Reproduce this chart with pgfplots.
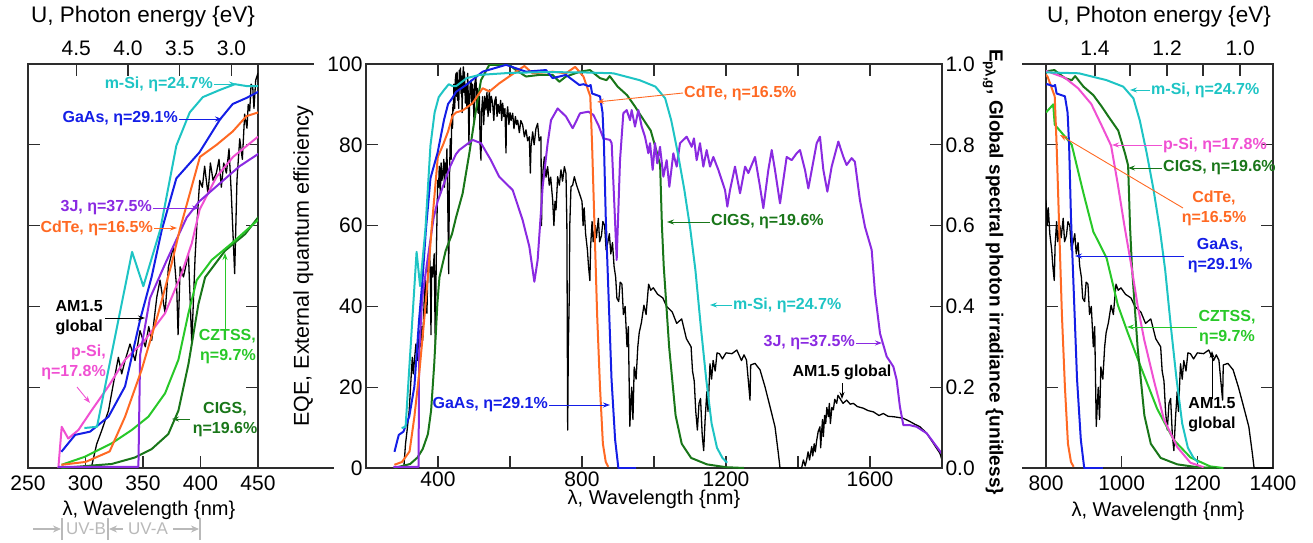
\documentclass[border=0pt]{standalone}
\usepackage{fontspec}
\setmainfont{Liberation Sans}
\usepackage{pgfplots}
\usepackage{pgfplotstable}
\pgfplotsset{compat=1.18}
\usetikzlibrary{arrows.meta}

\definecolor{msi}{RGB}{30,196,196}
\definecolor{gaas}{RGB}{20,30,230}
\definecolor{cdte}{RGB}{255,105,35}
\definecolor{cigs}{RGB}{25,118,25}
\definecolor{tj}{RGB}{138,42,225}
\definecolor{psi}{RGB}{240,80,210}
\definecolor{czt}{RGB}{40,200,40}
\definecolor{axc}{RGB}{45,45,45}

\pgfplotstableread{
x y
299 9.9
310 10.2
340.5 53.5
350.3 45
365 59
379 79.8
390.6 88
402 91.8
417 93.6
430 95
441 94.5
450 94.5
480 96.5
515 97.3
600 97.8
700 98
811 97.9
887 97.7
960 96
1004 94.4
1031 91.5
1048 86
1066 78
1084 69
1101 59
1115 49
1130 35
1145 22
1160 11
1175 5
1190 2.5
1203 1.3
}\tabmsi

\pgfplotstableread{
x y
279 4
291 8.2
304 9
320 12.7
334.4 20.2
347.4 36.6
357.5 47.3
366.3 58.9
379 71.7
399 78.1
417 86.3
428 90.1
440 91.6
450 93.1
478 94.8
524 98.1
589 99.8
644 98.1
700 98.5
718.5 96.5
755.5 97.3
792.6 94.8
804 95
819 94.5
824 94.8
828 92.7
850 92
857 88
861 80
866 62
874 42
882 22
892 7
901 0
950 0
}\tabgaas

\pgfplotstableread{
x y
279 0.8
300 1.5
321 4.1
334.4 12.7
348.8 24.3
363.3 38.3
375 50.7
382 59
399.5 77
414 80
428 83.3
440 87.1
450 88
468.5 88.5
496 90.3
524 94
543 93.2
570 95.2
617 98.1
640 99.5
663 97.7
718.5 98.1
755.5 97.7
781 99.3
804 96.9
823 92
828 80
833 65
842 38
850 20
858 6
866 1.5
873 0.3
}\tabcdte

\pgfplotstableread{
x y
279 0
322.8 1
343 2.6
357.6 4.7
372 8.4
380.8 14.2
389.5 25.7
398.2 40.6
404 47.2
421.4 53.8
438.8 57.9
450 62
468.5 68
487 77.9
505.5 88.6
519.4 96
542.6 99.8
598 99.8
616.7 98.5
644.4 96.9
681.5 97.3
718.5 97.3
737 95.6
755.5 96.9
794.5 98.1
822 98.5
850 96.5
868 96
877 97
899 94.4
925 92.3
947 89.5
965 87
991 83.5
1009 77.8
1017 74.9
1022 60
1027 50
1042 30
1060 13
1077 6
1103 2.5
1147 0.9
1200 0.2
1250 0
}\tabcigs

\pgfplotstableread{
x y
276 0.3
346 0.3
347.5 28
356 42
370 51
388 62
399 66
417 70.5
434 74.7
450 77.7
459 78.7
496.3 81.2
519.4 80.4
547 76.2
570 72.1
607.4 68.8
635 61.4
653.7 54.8
667.6 46.1
676.8 51.5
690.7 69.6
704.6 80.4
713.9 86.1
732.4 89
755.5 87
774 84.1
788 86.6
794.5 87.8
817.6 88.2
831.5 87.4
845.4 84.9
859.3 81.6
877.8 81.2
882.4 80.4
891.7 61.4
896.3 51.5
905.6 76.2
914.8 87.8
924 88.6
933.4 86.1
938 88.6
947.2 84.5
956.5 88.6
965.8 84.5
975 82
984.3 77.9
989 80.4
996.3 73.8
1002.8 80.4
1009 75.4
1016.7 79.5
1026 72.1
1035.2 76.2
1042.6 69.6
1053.7 77.9
1063 74.6
1072.2 80.4
1081.5 81.2
1090.8 82
1104.6 79.5
1111 81.6
1118.5 76.2
1127.8 80.4
1137 74.6
1146.3 78.7
1155.6 74.6
1164.8 77
1178.7 73.8
1188 71.3
1197.3 68.8
1203.7 64.7
1211.1 68.8
1225 74.6
1239 68
1253 74.6
1262 73
1280.6 77
1294.5 69.6
1303.7 64.3
1317.6 73.8
1327 78.7
1336 73.8
1350 65.5
1368.5 77
1382.4 76.2
1396.3 77.9
1405.6 78.7
1419.4 73.8
1428.7 69.2
1451.9 80.4
1461 82
1470.4 73.8
1481.5 68.4
1493.5 74.6
1512 80.8
1526 77
1535 75
1549 76.7
1558 75.8
1572 66.3
1586 59.7
1604.6 54
1614 43.2
1627.8 33.3
1646.3 27.6
1664.8 25.1
1674 21.8
1683 15.2
1692.6 10.6
1711 10.6
1729.6 10.2
1757.4 8.6
1785 5.3
1799 3.6
}\tabtj

\pgfplotstableread{
x y
276.4 0
279.3 10.2
285 7.3
293.8 9.4
305.4 14.3
319.9 20.2
334.4 26.8
351.8 31.7
369.2 38.3
383.7 48.2
392.4 55.6
399.3 64
413.8 72
428.3 77
450 82
}\tabpsiL

\pgfplotstableread{
x y
800 98.3
849.8 96.6
884.7 94
919.7 90.1
945.9 85
972 79.8
989.5 70.4
1007 60.1
1024.5 50.6
1042 40.3
1059.4 31.8
1085.6 21.5
1111.8 12
1146.7 5.2
1181.7 1.3
1216.6 0.2
}\tabpsiR

\pgfplotstableread{
x y
279.3 0.8
299.6 2.8
322.8 6.1
340.2 9.4
354.7 12.7
369.2 18.5
380.8 26.8
389.5 38.3
396.7 46.5
409.8 51.5
427.1 55.6
450 61.4
}\tabcztL

\pgfplotstableread{
x y
800 88
819 90
823 85
855 81.5
868 80
899 68
925 58.5
960 52
990 40.3
1016 33.5
1051 24.9
1094 14.6
1138 6.9
1182 2.6
1234 0.4
1269 0
}\tabcztR

\pgfplotstableread{
x y
305 0
309.7 5.9
314 9.2
320 14.2
324.2 20.8
328.6 27.4
331.5 23.3
334.4 26.6
338.7 30.7
343.1 26.6
347.4 34
352 30
355 35
357.6 31.6
362 42.3
364.8 46.5
369.2 38.3
372.1 49.8
376.4 54.7
379.4 44
380.5 33
382.3 49.8
385.2 47.3
389.5 53
392.4 30.8
395.3 52.2
396.8 60
399.3 71.2
401.6 69.5
403.6 74.7
406.5 67.8
408.6 75.5
410.9 71.2
413.8 73
416.1 76.4
418.1 69.5
420.2 75.5
422.5 73
424.8 79
426.8 67.8
429.7 48.1
431.7 71.2
434.1 81.5
436.4 76.4
438.4 87.6
440.4 84.1
441.5 90
442.8 88.4
444 95
445.4 94.4
446.5 89
448 96
450 97.7
451.5 92
453 98
454.6 91
456 96
457.5 89
459.3 98.5
461 94
462.5 99
463.9 92.7
465.5 97
467 88
468.5 96
470.4 99.3
472 93
473.5 98
476 90.3
478 95
480 89
482.4 97.7
484 92
486 80
487.5 90
489.5 95
491.7 96
494 90
496 95
498 91.9
500 86
502 95
505.5 96.9
507 90
509 94
511 88
513 87.8
515 92
517 80
519.4 76.2
521 88
524 91.9
527 85
530 92
533.3 88.6
536 93
539 87
542.6 93.6
545 88
548 92
551.8 90.3
555 86
558 91
561 91.9
564 87
567 90
570.4 87.8
574 91
577 86
579.6 90.3
583 87
586 89
588.9 78
590 86
593.5 89.4
597 85
600 88
603 86
607.4 87.8
611 84
615 87
618 85
621.3 86.1
626 83
630 86
635.2 84.9
640 82
644.4 83.7
649 81
653.7 82
656.5 73
658.3 79.5
663 83.2
667 80
672 84
676.8 85.3
681 81
686 82
687.5 60
688.9 68
692 74
695.4 77
700 72
704.6 74.6
709 70
713 72
718.5 66.3
722 60
725 66
727.8 63.9
732.4 72.1
737 70
741.6 73.8
746 71
751 74.6
755.5 72.9
758 60
760.2 9.4
762 30
764.8 43.2
766 60
769.4 69.6
774 70
778.7 72.1
785 70
792.6 68
800 66
803 60
806 64.4
810 58
815 54
818 50
821.8 46.4
824 55
828 61
831 56
836.7 60
840 57
845.4 61.8
849 56
854 57.5
858 61
862.9 60
867 54
871.6 55.8
876 58
880 53
884.7 55.8
889 50
893.5 47.2
897 42
902 41.2
906 46
910.9 45.5
915 38
919.7 40
925 30
928.7 35
932.8 10.3
938 20
941.5 12
945 25
950.2 22
955 30
958.9 33.5
965 36
972 40.3
978 38
985 45.5
991 44
998 44.6
1010 43
1024.5 42.1
1035 40
1050.7 38.6
1063 35.8
1076.9 36.9
1090 32
1103 30
1107 24
1111.8 21.5
1116 14
1120.5 9.4
1125 16
1129.3 17.2
1134 8
1138 4.3
1142 12
1146.7 18.9
1150 14
1155.5 25.8
1160 22
1164.2 26.6
1170 24
1175 28.5
1181.7 28.3
1190 27
1200 28.5
1216.6 28.3
1230 29.2
1243 26.6
1250 28
1257 26.7
1266.7 16.8
1268.5 25.5
1280.6 25.9
1294.5 24.3
1308.3 20.1
1322.2 15.2
1336.1 10.2
1345.4 3.6
1350 0
1410 0
1415 2
1420 0.5
1424 2
1428 4
1432 2
1438 5.3
1441 3
1445 6
1448 4
1452 6.9
1456 9
1461 10.2
1463 5
1465 8
1468 12
1470.4 7.8
1474 13
1477 11
1480 15
1484.3 12.7
1487 16
1490 11
1494 15
1498.2 14.4
1502 17
1507.4 16
1511 18
1516.7 17.2
1525 16
1535.2 16.8
1545 15.8
1553.7 16
1565 15.2
1581.5 14.8
1595 14.2
1609.3 13.9
1625 13
1637 13.5
1650 12.8
1664.8 12.7
1680 12.5
1692.6 12.3
1711 11.5
1725 10.8
1739 10.2
1757.4 8.6
1776 6.1
1794.4 3.6
1800 2
}\tabam

\pgfplotsset{
  panel/.style={
    scale only axis, height=404pt, ymin=0, ymax=100,
    tick align=inside, major tick length=12pt,
    axis line style={line width=1.3pt, axc},
    every tick/.style={line width=1.3pt, axc},
    tick label style={font=\fontsize{21}{24}\selectfont},
    label style={font=\fontsize{20}{24}\selectfont},
    /pgf/number format/assume math mode=true,
    /pgf/number format/1000 sep={},
  },
  cl/.style={line width=2pt, line join=round},
  bl/.style={line width=1.3pt, black, line join=round},
}
\tikzset{
  ann/.style={font=\bfseries\fontsize{16}{20}\selectfont, inner sep=0pt},
  arr/.style={line width=0.9pt, -{Stealth[length=7pt,width=5pt]}},
}

\begin{document}
\begin{tikzpicture}[x=1pt,y=1pt]
\useasboundingbox (0,0) rectangle (1313,542);

% ---------------- left panel ----------------
\begin{axis}[panel, at={(28pt,74pt)}, anchor=south west, width=230pt,
  xmin=250, xmax=450, xtick={250,300,350,400,450}, xtick pos=left,
  ytick={20,40,60,80}, yticklabels={}, ytick pos=both,
  xticklabel style={yshift=-4pt},
  xlabel={λ, Wavelength \{nm\}},
  xlabel style={at={(axis description cs:0.526,-0.104)}, anchor=center}]
\addplot[bl] table {\tabam};
\addplot[cl, cigs] table {\tabcigs};
\addplot[cl, czt] table {\tabcztL};
\addplot[cl, psi] table {\tabpsiL};
\addplot[cl, tj] table {\tabtj};
\addplot[cl, cdte] table {\tabcdte};
\addplot[cl, gaas] table {\tabgaas};
\addplot[cl, msi] table {\tabmsi};
\end{axis}
\begin{axis}[panel, at={(28pt,74pt)}, anchor=south west, width=230pt,
  xmin=250, xmax=450, axis x line*=top, hide y axis,
  xtick={292,337,382,427}, xticklabels={4.5,4.0,3.5,3.0},
  xticklabel style={yshift=5pt},
  xlabel={U, Photon energy \{eV\}},
  xlabel style={at={(axis description cs:0.5,1.116)}, anchor=center, font=\fontsize{22.5}{26}\selectfont}]
\end{axis}

% ---------------- middle panel ----------------
\begin{axis}[panel, at={(366pt,74pt)}, anchor=south west, width=576pt,
  xmin=200, xmax=1800, xtick={200,400,...,1800},
  xticklabels={{},400,{},800,{},1200,{},1600,{}}, xtick pos=both,
  ytick={0,20,40,60,80,100}, ytick pos=left,
  xlabel={λ, Wavelength \{nm\}},
  xlabel style={at={(axis description cs:0.5,-0.078)}, anchor=center},
  ylabel={EQE, External quantum efficiency},
  ylabel style={at={(axis description cs:-0.109,0.5)}, anchor=center, font=\fontsize{21.5}{24}\selectfont}]
\addplot[bl] table {\tabam};
\addplot[cl, cigs] table {\tabcigs};
\addplot[cl, tj] table {\tabtj};
\addplot[cl, cdte] table {\tabcdte};
\addplot[cl, gaas] table {\tabgaas};
\addplot[cl, msi] table {\tabmsi};
\end{axis}
\begin{axis}[panel, at={(366pt,74pt)}, anchor=south west, width=576pt,
  xmin=200, xmax=1800, ymin=0, ymax=1, hide x axis, axis y line*=right,
  ytick={0,0.2,0.4,0.6,0.8,1}, yticklabels={0.0,0.2,0.4,0.6,0.8,1.0},
  ylabel={E\textsubscript{pλ,g}, Global spectral photon irradiance \{unitless\}},
  ylabel style={at={(axis description cs:1.0885,0.485)}, anchor=center, rotate=180, font=\bfseries\fontsize{19}{22}\selectfont}]
\end{axis}

% ---------------- right panel ----------------
\begin{axis}[panel, at={(1046pt,74pt)}, anchor=south west, width=227pt,
  xmin=800, xmax=1400, xtick={800,1000,1200,1400}, xtick pos=left,
  ytick={20,40,60,80}, yticklabels={}, ytick pos=both,
  xticklabel style={yshift=-4pt},
  xlabel={λ, Wavelength \{nm\}},
  xlabel style={at={(axis description cs:0.493,-0.108)}, anchor=center}]
\addplot[bl] table {\tabam};
\addplot[cl, czt] table {\tabcztR};
\addplot[cl, cigs] table {\tabcigs};
\addplot[cl, psi] table {\tabpsiR};
\addplot[cl, cdte] table {\tabcdte};
\addplot[cl, gaas] table {\tabgaas};
\addplot[cl, msi] table {\tabmsi};
\end{axis}
\begin{axis}[panel, at={(1046pt,74pt)}, anchor=south west, width=227pt,
  xmin=800, xmax=1400, axis x line*=top, hide y axis,
  xtick={929.5,1022,1120,1215,1313}, xticklabels={1.4,{},1.2,{},1.0},
  xticklabel style={yshift=5pt},
  xlabel={U, Photon energy \{eV\}},
  xlabel style={at={(axis description cs:0.498,1.116)}, anchor=center, font=\fontsize{22.5}{26}\selectfont}]
\end{axis}

% connector lines
\draw[line width=1.3pt, axc] (258,478) -- (314,478);
\draw[line width=1.3pt, axc] (258,74) -- (334,74);
\draw[line width=1.3pt, axc] (1022,478) -- (1046,478);
\draw[line width=1.3pt, axc] (1022,74) -- (1046,74);

% ---- left annotations
\node[ann, msi, anchor=east] at (213,458) {m-Si, η=24.7\%};
\draw[arr, msi] (214,458) -- (236,458);
\node[ann, gaas, anchor=east] at (178,423) {GaAs, η=29.1\%};
\draw[arr, gaas] (179,423) -- (222,423);
\node[ann, tj, anchor=east] at (152,334) {3J, η=37.5\%};
\draw[arr, tj] (153,334) -- (199,334);
\node[ann, cdte, anchor=east] at (153,314) {CdTe, η=16.5\%};
\draw[arr, cdte] (154,314) -- (177,314);
\node[ann, anchor=east, align=right] at (103,224) {AM1.5\\global};
\draw[arr] (105,224) -- (145,224);
\node[ann, psi, anchor=east, align=right] at (106,180) {p-Si,\\η=17.8\%};
\draw[arr, psi] (77,155) -- (90,139);
\node[ann, czt, anchor=east, align=right] at (256,195) {CZTSS,\\η=9.7\%};
\draw[arr, czt] (225,212) -- (225,289);
\node[ann, cigs, align=center] at (225,122) {CIGS,\\η=19.6\%};
\draw[arr, cigs] (190,123) -- (172,123);

% UV bands
\begin{scope}[gray!55, line width=1.4pt]
\draw[-{Stealth[length=8pt,width=7pt]}] (33,13) -- (61,13);
\draw (62,2) -- (62,24);
\node[font=\fontsize{17}{19}\selectfont, inner sep=0pt] at (86,13) {UV-B};
\draw (108,2) -- (108,24);
\draw[-{Stealth[length=8pt,width=7pt]}] (123,13) -- (109,13);
\node[font=\fontsize{17}{19}\selectfont, inner sep=0pt] at (148,13) {UV-A};
\draw[-{Stealth[length=8pt,width=7pt]}] (173,13) -- (199,13);
\draw (200,2) -- (200,24);
\end{scope}

% ---- middle annotations
\node[ann, cdte, anchor=west] at (684,449) {CdTe, η=16.5\%};
\draw[arr, cdte] (683,449) -- (597,440);
\node[ann, cigs, anchor=west] at (711,320) {CIGS, η=19.6\%};
\draw[arr, cigs] (710,320) -- (667,320);
\node[ann, msi, anchor=west] at (733,237) {m-Si, η=24.7\%};
\draw[arr, msi] (732,237) -- (710,237);
\node[ann, tj, anchor=east] at (855,199) {3J, η=37.5\%};
\draw[arr, tj] (856,199) -- (882,199);
\node[ann] at (842,170) {AM1.5 global};
\draw[arr] (842,159) -- (842,143);
\node[ann, gaas, anchor=east] at (548,137) {GaAs, η=29.1\%};
\draw[arr, gaas] (549,137) -- (610,137);

% ---- right annotations
\node[ann, msi, anchor=west] at (1151,452) {m-Si, η=24.7\%};
\draw[arr, msi] (1150,452) -- (1130,452);
\node[ann, psi, anchor=west] at (1163,397) {p-Si, η=17.8\%};
\draw[arr, psi] (1162,397) -- (1112,397);
\node[ann, cigs, anchor=west] at (1163,374) {CIGS, η=19.6\%};
\draw[arr, cigs] (1162,374) -- (1128,374);
\node[ann, cdte, align=center] at (1214,334) {CdTe,\\η=16.5\%};
\draw[arr, cdte] (1183,334) -- (1060,407);
\node[ann, gaas, align=center] at (1220,286) {GaAs,\\η=29.1\%};
\draw[arr, gaas] (1184,286) -- (1075,286);
\node[ann, czt, align=center] at (1227,214) {CZTSS,\\η=9.7\%};
\draw[arr, czt] (1197,215) -- (1127,215);
\node[ann, align=center] at (1212,127) {AM1.5\\global};
\draw[arr] (1212,143) -- (1212,191);
\end{tikzpicture}
\end{document}
